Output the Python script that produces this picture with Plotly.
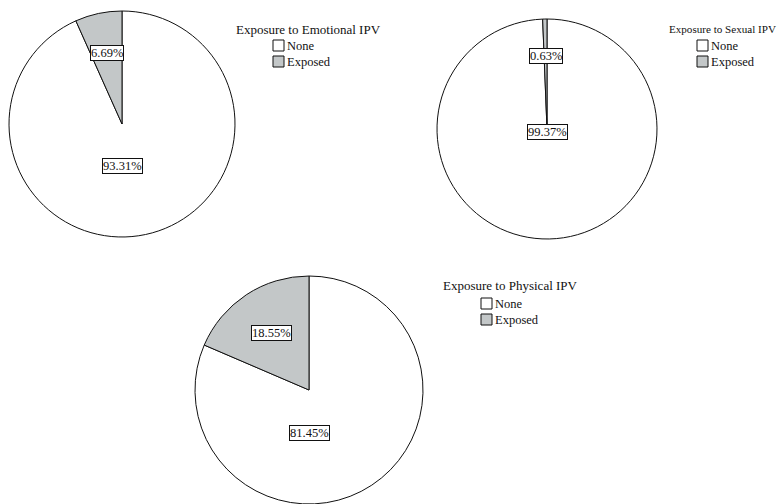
import math
import plotly.graph_objects as go

W, H = 780, 504

categories = ["None", "Exposed"]
titles = ["Exposure to Emotional IPV", "Exposure to Sexual IPV", "Exposure to Physical IPV"]
emotional = [93.31, 6.69]
sexual = [99.37, 0.63]
physical = [81.45, 18.55]
series = [emotional, sexual, physical]

# layout (pixels from top-left): pie centre and radius
pie_geom = [(122, 124, 113), (547, 129, 110), (309, 390, 114)]
none_label_frac = [0.37, 0.03, 0.38]
exposed_label_frac = [0.64, 0.66, 0.60]
legend_box_pos = [(273, 40), (697, 40), (481, 298)]   # left/top of first swatch
title_pos = [(234, 29), (667, 29), (441, 285)]
title_size = [13, 11.1, 13]

colors = ["#ffffff", "#c3c7c8"]
FONT = "Liberation Serif"
INK = "#111111"

fig = go.Figure()
annotations = []
shapes = []
for i, vals in enumerate(series):
    cx, cy, r = pie_geom[i]
    fig.add_trace(go.Pie(
        labels=categories, values=vals, sort=False, direction="clockwise",
        rotation=0, textinfo="none", hoverinfo="label+percent",
        marker=dict(colors=colors, line=dict(color=INK, width=1)),
        domain=dict(x=[(cx - r) / W, (cx + r) / W],
                    y=[max(0, 1 - (cy + r) / H), min(1, 1 - (cy - r) / H)]),
        showlegend=False,
    ))
    total = sum(vals)
    theta = math.radians(vals[1] / total * 360 / 2)
    ex = cx - math.sin(theta) * exposed_label_frac[i] * r
    ey = cy - math.cos(theta) * exposed_label_frac[i] * r
    nx = cx
    ny = cy + none_label_frac[i] * r
    for (px, py, v) in [(ex, ey, vals[1]), (nx, ny, vals[0])]:
        annotations.append(dict(
            x=px / W, y=1 - py / H, xref="paper", yref="paper",
            xanchor="center", yanchor="middle",
            text=f"{v:.2f}%", showarrow=False,
            font=dict(family=FONT, size=12.5, color=INK),
            bgcolor="white", bordercolor=INK, borderwidth=1, borderpad=0,
        ))
    tx, ty = title_pos[i]
    annotations.append(dict(
        x=tx / W, y=1 - ty / H, xref="paper", yref="paper",
        xanchor="left", yanchor="middle", text=titles[i], showarrow=False,
        font=dict(family=FONT, size=title_size[i], color=INK),
    ))
    # legend: swatch + label per category
    bx, by = legend_box_pos[i]
    for k, cat in enumerate(categories):
        top = by + k * 16
        shapes.append(dict(
            type="rect", xref="paper", yref="paper",
            x0=bx / W, x1=(bx + 11) / W, y0=1 - (top + 11) / H, y1=1 - top / H,
            fillcolor=colors[k], line=dict(color=INK, width=1),
        ))
        annotations.append(dict(
            x=(bx + 12) / W, y=1 - (top + 5.5) / H, xref="paper", yref="paper",
            xanchor="left", yanchor="middle", text=cat, showarrow=False,
            font=dict(family=FONT, size=12.5, color=INK),
        ))

fig.update_layout(
    width=W, height=H,
    margin=dict(l=0, r=0, t=0, b=0),
    paper_bgcolor="white", plot_bgcolor="white",
    annotations=annotations, shapes=shapes,
    showlegend=False,
)

fig.write_html("out.html", config={"displayModeBar": False},
               post_script="document.body.style.margin='0';")
